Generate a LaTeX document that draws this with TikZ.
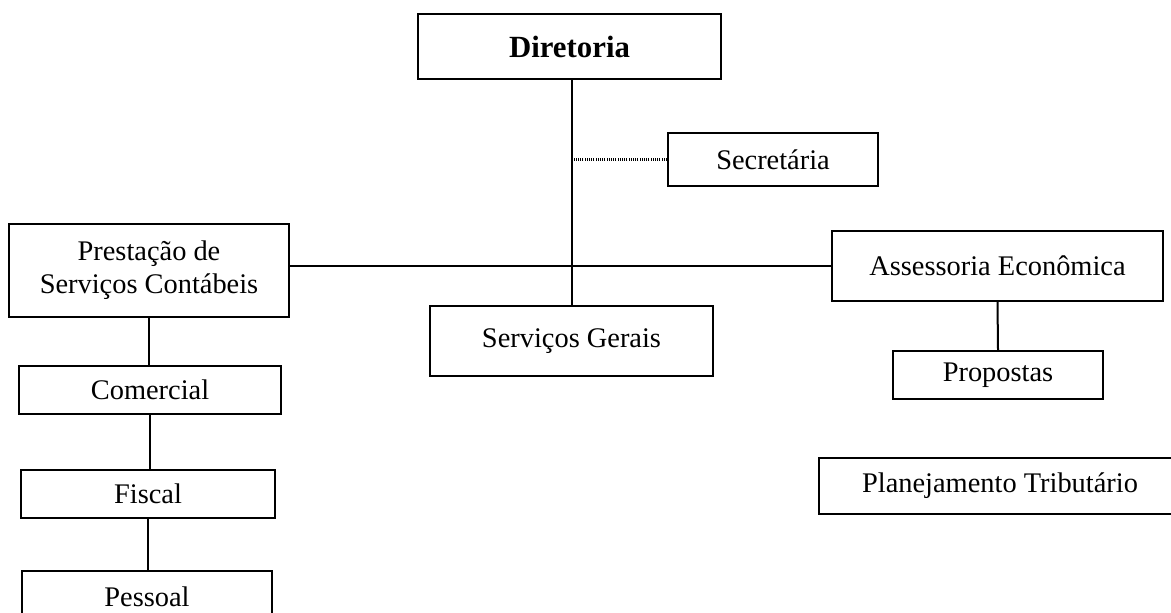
\documentclass[tikz,border=0pt]{standalone}
\usepackage{fontspec}
\setmainfont{Liberation Serif}

\begin{document}
\begin{tikzpicture}[x=0.5pt,y=-0.5pt,
	orgbox/.style={draw,line width=1pt,inner sep=0pt,align=center,font=\fontsize{14.2}{16.5}\selectfont},
	linkline/.style={line width=1pt},
	sideline/.style={line width=1.1pt,dash pattern=on 0.55pt off 0.55pt}]
\useasboundingbox (0,0) rectangle (1171,613);
\foreach \name/\txt/\cx/\cy/\w/\h in {
	dir/{\fontsize{15.4}{17}\selectfont\textbf{Diretoria}}/569.5/46.5/303/65,
	sec/Secretária/773/159.5/210/53,
	pre/{Prestação de\\Serviços Contábeis}/149/270.5/280/93,
	ass/Assessoria Econômica/997.5/266/331/70,
	ger/Serviços Gerais/571.5/341/283/70,
	pro/Propostas/998/375/210/48,
	pla/Planejamento Tributário/1000/486/362/56,
	com/Comercial/150/390/262/48,
	fis/Fiscal/148/494/254/48,
	pes/Pessoal/147/597/250/52%
	}{
	\node[orgbox,minimum width=\w*0.5pt,minimum height=\h*0.5pt] (\name) at (\cx,\cy) {\txt};
	}
\draw[linkline] (ger.north) -- (ger.north |- dir.south);
\draw[sideline] (sec.west) -- (sec.west -| ger.north);
\draw[linkline] (ass.west) -- (pre.east |- ass.west);
\draw[linkline] (ass.south) -- (pro.north);
\draw[linkline] (pre.south) -- (pre.south |- com.north);
\draw[linkline] (com.south) -- (com.south |- fis.north);
\draw[linkline] (fis.south) -- (fis.south |- pes.north);
\end{tikzpicture}
\end{document}
